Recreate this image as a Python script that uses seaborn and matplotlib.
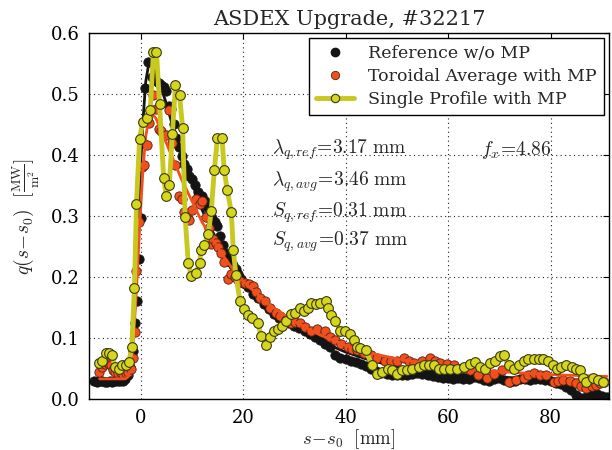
import numpy as np
import pandas as pd
import matplotlib
matplotlib.use("Agg")
import matplotlib.pyplot as plt
from matplotlib.lines import Line2D
import seaborn as sns

# Reference profile without MP (black points)
ref_x = [-9.0, -8.5, -8.0, -7.5, -7.0, -6.5, -6.0, -5.5, -5.0, -4.5, -4.0, -3.5, -3.0, -2.5,
         -2.0, -1.5, -1.0, -0.7, -0.3, 0.0, 0.4, 0.8, 1.5, 2.2, 3.0, 3.5, 4.0, 4.5, 5.0, 5.5,
         6.0, 6.6, 7.0, 7.5, 8.0, 8.5, 9.0, 9.5, 10.0, 10.7, 11.3, 12.0, 12.5, 13.0, 13.5,
         14.0, 14.5, 15.0, 15.5, 16.0, 16.5, 17.0, 17.5, 18.0, 18.6, 19.0, 19.5, 20.0, 21.0,
         22.0, 23.0, 24.0, 25.0, 26.0, 27.0, 28.0, 29.0, 30.0, 31.0, 32.0, 33.0, 34.0, 35.0,
         36.0, 37.0, 38.0, 39.0, 40.0, 41.0, 42.0, 43.0, 44.0, 45.0, 46.0, 47.0, 48.0, 49.0,
         50.0, 51.0, 52.0, 53.0, 54.0, 55.0, 56.0, 57.0, 58.0, 59.0, 60.0, 61.0, 62.0, 63.0,
         64.0, 65.0, 66.0, 67.0, 68.0, 69.0, 70.0, 71.0, 72.0, 73.0, 74.0, 75.0, 76.0, 77.0,
         78.0, 79.0, 80.0, 81.0, 82.0, 83.0, 84.0, 85.0, 86.0, 87.0, 88.0, 89.0, 90.0, 91.0]
ref_q = [0.029, 0.028, 0.030, 0.029, 0.028, 0.028, 0.029, 0.028, 0.029, 0.030, 0.029, 0.030,
         0.032, 0.040, 0.052, 0.078, 0.125, 0.161, 0.230, 0.296, 0.420, 0.509, 0.553, 0.528,
         0.522, 0.518, 0.514, 0.512, 0.505, 0.481, 0.475, 0.450, 0.428, 0.413, 0.398, 0.385,
         0.377, 0.366, 0.361, 0.351, 0.340, 0.332, 0.324, 0.315, 0.305, 0.296, 0.290, 0.284,
         0.268, 0.252, 0.240, 0.230, 0.225, 0.220, 0.213, 0.205, 0.196, 0.190, 0.183, 0.172,
         0.165, 0.156, 0.148, 0.140, 0.133, 0.128, 0.124, 0.120, 0.117, 0.112, 0.106, 0.101,
         0.097, 0.090, 0.085, 0.072, 0.068, 0.066, 0.063, 0.060, 0.057, 0.054, 0.050, 0.046,
         0.043, 0.041, 0.040, 0.039, 0.040, 0.039, 0.041, 0.042, 0.041, 0.040, 0.037, 0.036,
         0.035, 0.034, 0.033, 0.034, 0.032, 0.033, 0.036, 0.035, 0.031, 0.030, 0.033, 0.034,
         0.031, 0.028, 0.030, 0.032, 0.033, 0.031, 0.032, 0.033, 0.031, 0.029, 0.027, 0.024,
         0.020, 0.014, 0.006, 0.001, 0.004, 0.007, 0.009, 0.005, 0.003]

# Toroidal average with MP (orange points)
avg_x = [-8.2, -7.6, -7.0, -6.6, -6.2, -5.8, -5.3, -4.9, -4.4, -3.9, -3.4, -2.9, -2.4, -1.9,
         -1.4, -1.0, -0.8, -0.4, 0.2, 0.6, 1.2, 1.7, 2.5, 3.1, 3.5, 4.0, 4.9, 5.6, 6.2, 6.8,
         7.4, 8.0, 8.4, 9.0, 9.5, 10.1, 10.9, 11.5, 12.0, 12.8, 13.4, 13.8, 14.2, 14.7, 15.1,
         15.7, 16.3, 17.1, 17.7, 18.4, 19.0, 19.7, 20.4, 21.1, 21.9, 22.6, 23.3, 24.3, 25.3,
         26.4, 27.3, 28.3, 29.3, 30.2, 31.1, 32.1, 33.2, 34.5, 35.9, 36.9, 37.9, 39.1, 40.4,
         41.3, 42.3, 43.6, 44.9, 46.2, 47.6, 48.8, 50.1, 51.5, 52.4, 53.4, 55.0, 56.5, 57.4,
         58.4, 59.8, 61.2, 62.7, 64.3, 65.9, 67.6, 69.0, 70.5, 71.8, 73.3, 74.8, 75.7, 76.7,
         78.0, 79.2, 80.6, 81.5, 82.5, 83.8, 85.0, 86.0, 87.0, 88.0, 88.9, 89.7, 90.5]
avg_q = [0.044, 0.052, 0.058, 0.060, 0.057, 0.055, 0.048, 0.044, 0.043, 0.042, 0.041, 0.042,
         0.045, 0.050, 0.068, 0.110, 0.210, 0.290, 0.380, 0.384, 0.416, 0.452, 0.499, 0.475,
         0.442, 0.440, 0.433, 0.473, 0.420, 0.384, 0.332, 0.328, 0.307, 0.300, 0.294, 0.310,
         0.328, 0.319, 0.324, 0.299, 0.280, 0.254, 0.262, 0.256, 0.250, 0.240, 0.225, 0.197,
         0.205, 0.200, 0.195, 0.192, 0.190, 0.188, 0.185, 0.175, 0.166, 0.161, 0.150, 0.141,
         0.136, 0.130, 0.124, 0.126, 0.125, 0.118, 0.112, 0.114, 0.112, 0.102, 0.096, 0.090,
         0.085, 0.082, 0.080, 0.076, 0.072, 0.068, 0.063, 0.062, 0.063, 0.067, 0.062, 0.059,
         0.063, 0.067, 0.062, 0.059, 0.057, 0.055, 0.051, 0.047, 0.040, 0.034, 0.041, 0.047,
         0.028, 0.031, 0.034, 0.039, 0.042, 0.040, 0.039, 0.028, 0.030, 0.031, 0.029, 0.026,
         0.022, 0.018, 0.021, 0.023, 0.026, 0.028]

# Single profile with MP (yellow line + markers)
single_x = [-8.2, -7.6, -6.8, -6.2, -5.6, -4.9, -4.3, -3.7, -2.9, -2.3, -1.7, -1.2, -0.8,
            -0.2, 0.4, 1.2, 1.9, 2.5, 3.1, 3.7, 4.5, 5.0, 5.6, 6.2, 6.8, 7.6, 8.2, 8.7, 9.3,
            9.9, 10.9, 11.5, 11.8, 12.4, 13.2, 13.8, 14.4, 15.0, 15.9, 16.3, 16.9, 17.7, 18.1,
            18.6, 19.4, 20.2, 21.0, 21.7, 22.9, 23.5, 24.5, 25.2, 26.0, 26.8, 27.6, 28.3, 29.3,
            30.1, 31.1, 31.8, 32.6, 33.2, 34.2, 35.1, 36.1, 36.5, 37.1, 37.9, 39.0, 39.8, 40.8,
            41.6, 42.3, 42.9, 43.9, 45.2, 46.2, 47.2, 48.2, 49.1, 50.1, 51.1, 52.0, 53.0, 54.4,
            55.3, 56.3, 57.3, 58.3, 59.2, 60.4, 61.7, 63.1, 64.3, 65.2, 66.2, 67.2, 68.2, 69.1,
            70.1, 70.9, 71.8, 72.8, 73.8, 74.8, 75.7, 76.7, 77.7, 78.6, 79.6, 80.4, 81.2, 82.1,
            83.1, 84.1, 85.0, 85.8, 86.4, 87.0, 88.3, 89.3, 90.3]
single_q = [0.059, 0.063, 0.075, 0.075, 0.072, 0.052, 0.050, 0.055, 0.055, 0.060, 0.085,
            0.182, 0.320, 0.426, 0.454, 0.460, 0.473, 0.569, 0.569, 0.483, 0.363, 0.333,
            0.351, 0.434, 0.515, 0.499, 0.444, 0.298, 0.223, 0.202, 0.207, 0.223, 0.244,
            0.252, 0.270, 0.309, 0.376, 0.428, 0.428, 0.376, 0.343, 0.307, 0.244, 0.203,
            0.161, 0.148, 0.138, 0.132, 0.125, 0.104, 0.088, 0.102, 0.112, 0.115, 0.120,
            0.128, 0.140, 0.141, 0.150, 0.145, 0.150, 0.158, 0.156, 0.158, 0.161, 0.150,
            0.137, 0.128, 0.112, 0.111, 0.107, 0.096, 0.085, 0.083, 0.080, 0.055, 0.041,
            0.044, 0.050, 0.047, 0.041, 0.047, 0.047, 0.050, 0.052, 0.055, 0.055, 0.055,
            0.050, 0.050, 0.049, 0.050, 0.052, 0.057, 0.060, 0.052, 0.050, 0.059, 0.063,
            0.070, 0.072, 0.055, 0.050, 0.055, 0.062, 0.065, 0.065, 0.065, 0.065, 0.063,
            0.055, 0.050, 0.052, 0.055, 0.052, 0.050, 0.047, 0.034, 0.028, 0.034, 0.031, 0.028]

# Fit curves
ref_fit_x = [-9.0, -4.0, -3.0, -2.5, -2.0, -1.5, -1.0, -0.5, 0.0, 0.5, 1.0, 1.5, 2.0, 3.0, 4.0,
             5.0, 6.0, 8.0, 10.0, 12.0, 14.0, 16.0, 18.0, 20.0, 25.0, 30.0, 35.0, 40.0, 45.0,
             50.0, 60.0, 70.0, 80.0, 91.0]
ref_fit_q = [0.025, 0.025, 0.027, 0.035, 0.060, 0.120, 0.200, 0.290, 0.380, 0.460, 0.520,
             0.545, 0.550, 0.535, 0.510, 0.485, 0.455, 0.405, 0.355, 0.310, 0.275, 0.245,
             0.215, 0.190, 0.150, 0.120, 0.095, 0.077, 0.063, 0.053, 0.042, 0.036, 0.032, 0.030]
avg_fit_x = [-8.0, -3.0, -2.5, -2.0, -1.5, -1.0, -0.5, 0.0, 0.5, 1.0, 1.5, 2.0, 2.5, 3.0, 4.0,
             5.0, 6.0, 8.0, 10.0, 12.0, 14.0, 16.0, 18.0, 20.0, 25.0, 30.0, 35.0, 40.0, 45.0,
             50.0, 60.0, 70.0, 80.0, 91.0]
avg_fit_q = [0.033, 0.033, 0.036, 0.050, 0.090, 0.150, 0.230, 0.310, 0.380, 0.430, 0.455,
             0.465, 0.465, 0.460, 0.440, 0.420, 0.400, 0.360, 0.325, 0.290, 0.262, 0.236,
             0.213, 0.193, 0.155, 0.127, 0.105, 0.088, 0.075, 0.066, 0.053, 0.045, 0.040, 0.037]

labels = ["Reference w/o MP", "Toroidal Average with MP", "Single Profile with MP"]

c_black = "#141414"
c_orange = "#f0501e"
c_yellow = "#c8c81e"
c_yface = "#d6d61c"

sns.set_style("white")
plt.rcParams["font.family"] = ["DejaVu Serif"]
plt.rcParams["mathtext.fontset"] = "cm"

fig = plt.figure(figsize=(6.12, 4.5), dpi=100)
ax = fig.add_axes([0.146, 0.1133, 0.849, 0.8134])

df_ref = pd.DataFrame({"x": ref_x, "q": ref_q})
df_avg = pd.DataFrame({"x": avg_x, "q": avg_q})
df_single = pd.DataFrame({"x": single_x, "q": single_q})
df_ref_fit = pd.DataFrame({"x": ref_fit_x, "q": ref_fit_q})
df_avg_fit = pd.DataFrame({"x": avg_fit_x, "q": avg_fit_q})

sns.scatterplot(data=df_ref, x="x", y="q", ax=ax, color=c_black, s=45,
                edgecolor=c_black, linewidth=0.6, zorder=2)
sns.lineplot(data=df_ref_fit, x="x", y="q", ax=ax, color=c_black, lw=2,
             sort=False, estimator=None, zorder=3)
sns.scatterplot(data=df_avg, x="x", y="q", ax=ax, color=c_orange, s=45,
                edgecolor="#5a2010", linewidth=0.6, zorder=4)
sns.lineplot(data=df_avg_fit, x="x", y="q", ax=ax, color=c_orange, lw=2,
             sort=False, estimator=None, zorder=5)
sns.lineplot(data=df_single, x="x", y="q", ax=ax, color=c_yellow, lw=3.5,
             sort=False, estimator=None, marker="o", markersize=7,
             markerfacecolor=c_yface, markeredgecolor="#3a3a10", markeredgewidth=0.8,
             zorder=6)

ax.set_xlim(-10, 91.4)
ax.set_ylim(0, 0.6)
ax.set_xticks([0, 20, 40, 60, 80])
ax.set_yticks([0.0, 0.1, 0.2, 0.3, 0.4, 0.5, 0.6])
ax.set_yticklabels(["0.0", "0.1", "0.2", "0.3", "0.4", "0.5", "0.6"])
ax.tick_params(direction="in", top=True, right=True, length=4, width=0.8,
               labelsize=13, colors="black", pad=7)
ax.grid(True, color="#222222", linestyle=(0, (1, 3)), linewidth=0.8)
for sp in ax.spines.values():
    sp.set_color("black")
    sp.set_linewidth(1.0)

ax.set_title("ASDEX Upgrade, #32217", fontsize=15, pad=6)
ax.set_xlabel(r"$s\!-\!s_0\ \ [\mathrm{mm}]$", fontsize=13.5, labelpad=0)
ax.set_ylabel(r"$q(s\!-\!s_0)\ \ [\frac{\mathrm{MW}}{\mathrm{m}^2}]$", fontsize=14, labelpad=6)

ann = [r"$\lambda_{q,ref}\!=\!3.17\ \mathrm{mm}$",
       r"$\lambda_{q,avg}\!=\!3.46\ \mathrm{mm}$",
       r"$S_{q,ref}\!=\!0.31\ \mathrm{mm}$",
       r"$S_{q,avg}\!=\!0.37\ \mathrm{mm}$"]
ann_y = [0.680, 0.593, 0.508, 0.429]
for t, yy in zip(ann, ann_y):
    ax.text(0.351, yy, t, transform=ax.transAxes, fontsize=14, va="center", ha="left")
ax.text(0.754, 0.680, r"$f_x\!=\!4.86$", transform=ax.transAxes, fontsize=14,
        va="center", ha="left")

handles = [
    Line2D([], [], linestyle="none", marker="o", color=c_black, markersize=6),
    Line2D([], [], linestyle="none", marker="o", color=c_orange, markeredgecolor="#5a2010",
           markeredgewidth=0.6, markersize=6),
    Line2D([], [], color=c_yellow, lw=3.5, marker="o", markerfacecolor=c_yface,
           markeredgecolor="#3a3a10", markeredgewidth=0.8, markersize=6),
]
leg = ax.legend(handles, labels, loc="upper right", fontsize=12.5, numpoints=1,
                fancybox=False, framealpha=1, edgecolor="black", borderpad=0.4,
                labelspacing=0.35, handlelength=2.2, borderaxespad=0.3)
leg.get_frame().set_linewidth(1.0)
leg.set_zorder(10)

fig.savefig("out.png", dpi=100)
